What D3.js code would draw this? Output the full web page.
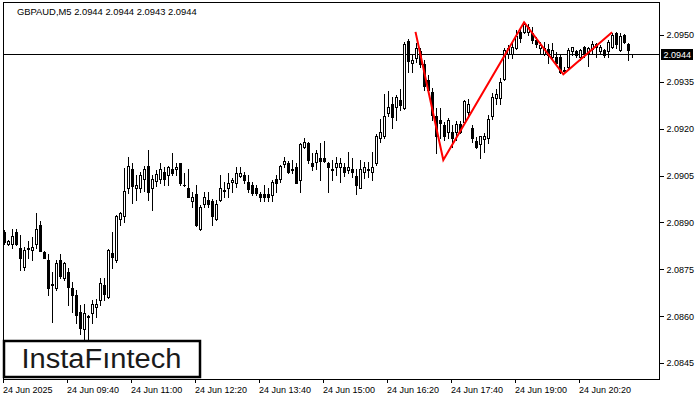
<!DOCTYPE html>
<html><head><meta charset="utf-8">
<script src="https://cdn.jsdelivr.net/npm/d3@7"></script>
<style>
html,body{margin:0;padding:0;background:#fff;}
svg{display:block;}
text{font-family:"Liberation Sans",Arial,sans-serif;}
</style></head>
<body>
<svg id="chart" width="700" height="400"></svg>
<script>
const symbolTitle = "GBPAUD,M5  2.0944 2.0944 2.0943 2.0944";
const lastPrice = 2.0944;
const yTicks = [2.0845, 2.0860, 2.0875, 2.0890, 2.0905, 2.0920, 2.0935, 2.0950];
const xTickBars = [0, 16, 32, 48, 64, 80, 96, 112, 128, 144];
const xTickLabels = ["24 Jun 2025","24 Jun 09:40","24 Jun 11:00","24 Jun 12:20","24 Jun 13:40","24 Jun 15:00","24 Jun 16:20","24 Jun 17:40","24 Jun 19:00","24 Jun 20:20"];

const open = [2.08870,2.08831,2.08831,2.08870,2.08818,2.08758,2.08818,2.08812,2.08831,2.08892,
2.08806,2.08780,2.08700,2.08690,2.08780,2.08722,2.08742,2.08690,2.08668,2.08614,
2.08559,2.08601,2.08610,2.08630,2.08652,2.08700,2.08662,2.08802,2.08780,2.08911,
2.08921,2.09010,2.09071,2.09010,2.09010,2.09039,2.09081,2.09010,2.09033,2.09039,
2.09062,2.09052,2.09071,2.09071,2.09090,2.09020,2.09010,2.08969,2.08991,2.08879,
2.08959,2.08972,2.08969,2.08911,2.08972,2.09001,2.09010,2.09030,2.09026,2.09049,
2.09052,2.09030,2.09020,2.09010,2.08991,2.08991,2.08991,2.08988,2.09039,2.09039,
2.09087,2.09090,2.09071,2.09078,2.09036,2.09142,2.09154,2.09090,2.09094,2.09106,
2.09106,2.09090,2.09071,2.09078,2.09078,2.09078,2.09068,2.09071,2.09049,2.09010,
2.09062,2.09071,2.09062,2.09090,2.09170,2.09177,2.09250,2.09279,2.09270,2.09292,
2.09266,2.09481,2.09410,2.09426,2.09449,2.09407,2.09356,2.09318,2.09241,2.09228,
2.09212,2.09190,2.09190,2.09190,2.09215,2.09222,2.09254,2.09202,2.09161,2.09151,
2.09167,2.09170,2.09241,2.09298,2.09298,2.09359,2.09439,2.09439,2.09458,2.09510,
2.09510,2.09510,2.09506,2.09484,2.09458,2.09439,2.09455,2.09430,2.09430,2.09430,
2.09388,2.09398,2.09449,2.09449,2.09430,2.09462,2.09442,2.09455,2.09462,2.09449,
2.09452,2.09449,2.09462,2.09506,2.09452,2.09500,2.09471,2.09440];

const high = [2.08876,2.08844,2.08879,2.08879,2.08860,2.08822,2.08841,2.08854,2.08930,2.08905,
2.08809,2.08799,2.08742,2.08780,2.08799,2.08774,2.08754,2.08710,2.08684,2.08636,
2.08639,2.08604,2.08652,2.08655,2.08722,2.08722,2.08815,2.08870,2.08924,2.08934,
2.09074,2.09110,2.09090,2.09052,2.09062,2.09081,2.09132,2.09052,2.09068,2.09090,
2.09078,2.09081,2.09122,2.09090,2.09090,2.09058,2.09071,2.08998,2.09020,2.08956,
2.08998,2.08998,2.08975,2.08972,2.09052,2.09030,2.09058,2.09042,2.09078,2.09078,
2.09062,2.09052,2.09030,2.09020,2.08998,2.09020,2.09010,2.09036,2.09052,2.09084,
2.09110,2.09097,2.09100,2.09090,2.09154,2.09170,2.09158,2.09122,2.09132,2.09154,
2.09161,2.09094,2.09100,2.09110,2.09106,2.09090,2.09126,2.09106,2.09071,2.09100,
2.09094,2.09094,2.09126,2.09183,2.09231,2.09311,2.09321,2.09302,2.09308,2.09327,
2.09478,2.09487,2.09439,2.09474,2.09458,2.09420,2.09372,2.09330,2.09266,2.09266,
2.09222,2.09234,2.09212,2.09225,2.09225,2.09292,2.09295,2.09212,2.09174,2.09177,
2.09186,2.09244,2.09314,2.09327,2.09362,2.09458,2.09468,2.09474,2.09516,2.09522,
2.09542,2.09535,2.09526,2.09494,2.09478,2.09478,2.09471,2.09474,2.09446,2.09436,
2.09398,2.09458,2.09462,2.09452,2.09455,2.09465,2.09462,2.09481,2.09474,2.09468,
2.09455,2.09484,2.09506,2.09510,2.09506,2.09503,2.09474,2.09440];

const low = [2.08831,2.08828,2.08818,2.08828,2.08748,2.08748,2.08786,2.08780,2.08818,2.08809,
2.08786,2.08668,2.08582,2.08684,2.08722,2.08716,2.08636,2.08614,2.08578,2.08543,
2.08527,2.08518,2.08578,2.08598,2.08636,2.08652,2.08658,2.08754,2.08774,2.08892,
2.08902,2.08994,2.08962,2.08972,2.08998,2.09001,2.08972,2.08940,2.09017,2.09026,
2.09020,2.09020,2.09052,2.09052,2.09020,2.09017,2.08982,2.08950,2.08889,2.08876,
2.08950,2.08950,2.08892,2.08908,2.08969,2.08982,2.08982,2.08998,2.09014,2.09046,
2.09026,2.08998,2.08988,2.08988,2.08969,2.08969,2.08969,2.08969,2.08998,2.09030,
2.09078,2.09058,2.09058,2.09026,2.08998,2.09138,2.09090,2.09068,2.09071,2.09036,
2.09094,2.08998,2.09036,2.09052,2.09030,2.09049,2.09058,2.09046,2.08991,2.09010,
2.09042,2.09046,2.09036,2.09084,2.09158,2.09170,2.09241,2.09202,2.09228,2.09260,
2.09263,2.09382,2.09382,2.09414,2.09398,2.09324,2.09318,2.09228,2.09122,2.09170,
2.09164,2.09170,2.09142,2.09164,2.09186,2.09218,2.09238,2.09158,2.09138,2.09106,
2.09126,2.09154,2.09231,2.09279,2.09279,2.09356,2.09426,2.09426,2.09455,2.09478,
2.09506,2.09500,2.09474,2.09462,2.09439,2.09436,2.09410,2.09426,2.09404,2.09378,
2.09378,2.09395,2.09436,2.09430,2.09420,2.09430,2.09401,2.09442,2.09430,2.09442,
2.09430,2.09430,2.09458,2.09458,2.09449,2.09474,2.09420,2.09430];

const close = [2.08838,2.08841,2.08857,2.08831,2.08786,2.08812,2.08816,2.08822,2.08879,2.08809,
2.08786,2.08690,2.08703,2.08770,2.08729,2.08770,2.08694,2.08668,2.08604,2.08562,
2.08610,2.08598,2.08639,2.08639,2.08706,2.08671,2.08812,2.08790,2.08921,2.08930,
2.09001,2.09081,2.09017,2.09020,2.09052,2.09071,2.08998,2.09039,2.09055,2.09071,
2.09039,2.09078,2.09058,2.09078,2.09026,2.09020,2.08982,2.08982,2.08892,2.08950,
2.08982,2.08959,2.08921,2.08959,2.09010,2.09004,2.09026,2.09036,2.09058,2.09058,
2.09036,2.09007,2.08994,2.08994,2.08982,2.08982,2.08982,2.09030,2.09026,2.09081,
2.09097,2.09062,2.09068,2.09026,2.09151,2.09158,2.09100,2.09081,2.09122,2.09097,
2.09097,2.09078,2.09068,2.09090,2.09090,2.09062,2.09078,2.09062,2.09020,2.09071,
2.09078,2.09068,2.09078,2.09177,2.09190,2.09241,2.09270,2.09238,2.09302,2.09276,
2.09471,2.09417,2.09420,2.09458,2.09407,2.09337,2.09324,2.09244,2.09177,2.09218,
2.09177,2.09228,2.09170,2.09215,2.09190,2.09289,2.09279,2.09170,2.09142,2.09177,
2.09177,2.09231,2.09302,2.09311,2.09350,2.09452,2.09458,2.09462,2.09497,2.09490,
2.09535,2.09526,2.09484,2.09471,2.09468,2.09458,2.09436,2.09452,2.09410,2.09382,
2.09385,2.09452,2.09462,2.09436,2.09452,2.09442,2.09458,2.09471,2.09471,2.09462,
2.09436,2.09478,2.09500,2.09471,2.09497,2.09478,2.09452,2.09440];

// pattern line (bar index, price)
const patternBars = [102.75, 109.7, 129.9, 139.7, 151.9];
const patternPrices = [2.09510, 2.09100, 2.09541, 2.09374, 2.09509];

const svg = d3.select("#chart");
const frame = {left: 3, right: 659, top: 2, bottom: 379};

const x = d3.scaleLinear().domain([0, 164]).range([4, 660]);
const y = d3.scaleLinear().domain([2.0845, 2.0950]).range([363, 35]);

// frame
svg.append("rect")
  .attr("x", frame.left + 0.5).attr("y", frame.top + 0.5)
  .attr("width", frame.right - frame.left).attr("height", frame.bottom - frame.top)
  .attr("fill", "#fff").attr("stroke", "#000").attr("stroke-width", 1)
  .attr("shape-rendering", "crispEdges");

// header
svg.append("text").attr("x", 17).attr("y", 15)
  .attr("font-size", "9.4px").attr("fill", "#000").text(symbolTitle);

// right axis
const yAxis = d3.axisRight(y).tickValues(yTicks).tickSize(4).tickPadding(3)
  .tickFormat(d3.format(".4f"));
const gy = svg.append("g").attr("transform", `translate(${frame.right + 0.5},0)`).call(yAxis);
gy.select(".domain").remove();
gy.selectAll("line").attr("stroke", "#000").attr("shape-rendering", "crispEdges");
gy.selectAll("text").attr("font-size", "9px").attr("fill", "#000")
  .attr("font-family", "Liberation Sans, Arial, sans-serif");

// bottom axis
const bottomG = svg.append("g");
xTickBars.forEach((b, k) => {
  const tx = Math.round(x(b)) - 1 + 0.5;
  bottomG.append("line").attr("x1", tx).attr("x2", tx)
    .attr("y1", frame.bottom).attr("y2", frame.bottom + 4)
    .attr("stroke", "#000").attr("shape-rendering", "crispEdges");
  bottomG.append("text").attr("x", tx - 0.5).attr("y", 392.5)
    .attr("font-size", "9px").attr("fill", "#000").text(xTickLabels[k]);
});

// last price line
const yLast = Math.round(y(lastPrice)) + 0.5;
svg.append("line").attr("x1", frame.left).attr("x2", frame.right)
  .attr("y1", yLast).attr("y2", yLast).attr("stroke", "#000")
  .attr("shape-rendering", "crispEdges");

// candles
const candles = svg.append("g").attr("shape-rendering", "crispEdges");
open.forEach((o, i) => {
  const c = Math.round(x(i));
  const h = high[i], l = low[i], cl = close[i];
  const yH = Math.round(y(h)), yL = Math.round(y(l));
  candles.append("line").attr("x1", c + 0.5).attr("x2", c + 0.5)
    .attr("y1", yH).attr("y2", yL + 1).attr("stroke", "#000");
  const top = Math.round(y(Math.max(o, cl)));
  const bot = Math.round(y(Math.min(o, cl)));
  if (cl >= o) {
    if (bot - top < 1) {
      candles.append("rect").attr("x", c - 1).attr("y", top).attr("width", 3).attr("height", 1).attr("fill", "#000");
    } else {
      candles.append("rect").attr("x", c - 0.5).attr("y", top + 0.5)
        .attr("width", 2).attr("height", bot - top)
        .attr("fill", "#fff").attr("stroke", "#000").attr("stroke-width", 1);
    }
  } else {
    candles.append("rect").attr("x", c - 1).attr("y", top)
      .attr("width", 3).attr("height", Math.max(1, bot - top + 1)).attr("fill", "#000");
  }
});

// pattern line
const pts = patternBars.map((b, k) => [x(b) + 0.5, y(patternPrices[k])]);
svg.append("path").attr("d", d3.line()(pts)).attr("fill", "none")
  .attr("stroke", "#ff0000").attr("stroke-width", 2).attr("stroke-linejoin", "miter");

// price tag
svg.append("rect").attr("x", 661).attr("y", yLast - 5.5).attr("width", 32).attr("height", 11)
  .attr("fill", "#000");
svg.append("text").attr("x", 663.5).attr("y", yLast + 3.5).attr("font-size", "9px")
  .attr("fill", "#fff").text(d3.format(".4f")(lastPrice));

// logo
svg.append("rect").attr("x", 4).attr("y", 341).attr("width", 196).attr("height", 36)
  .attr("fill", "#fff").attr("stroke", "#000").attr("stroke-width", 2.5);
svg.append("text").attr("x", 21.5).attr("y", 368)
  .attr("font-family", "Inter, 'Open Sans', sans-serif").attr("font-weight", 500)
  .attr("font-size", "27px").attr("fill", "#1a1a1a")
  .attr("textLength", 160).attr("lengthAdjust", "spacingAndGlyphs")
  .text("InstaFıntech");
</script>
</body></html>
